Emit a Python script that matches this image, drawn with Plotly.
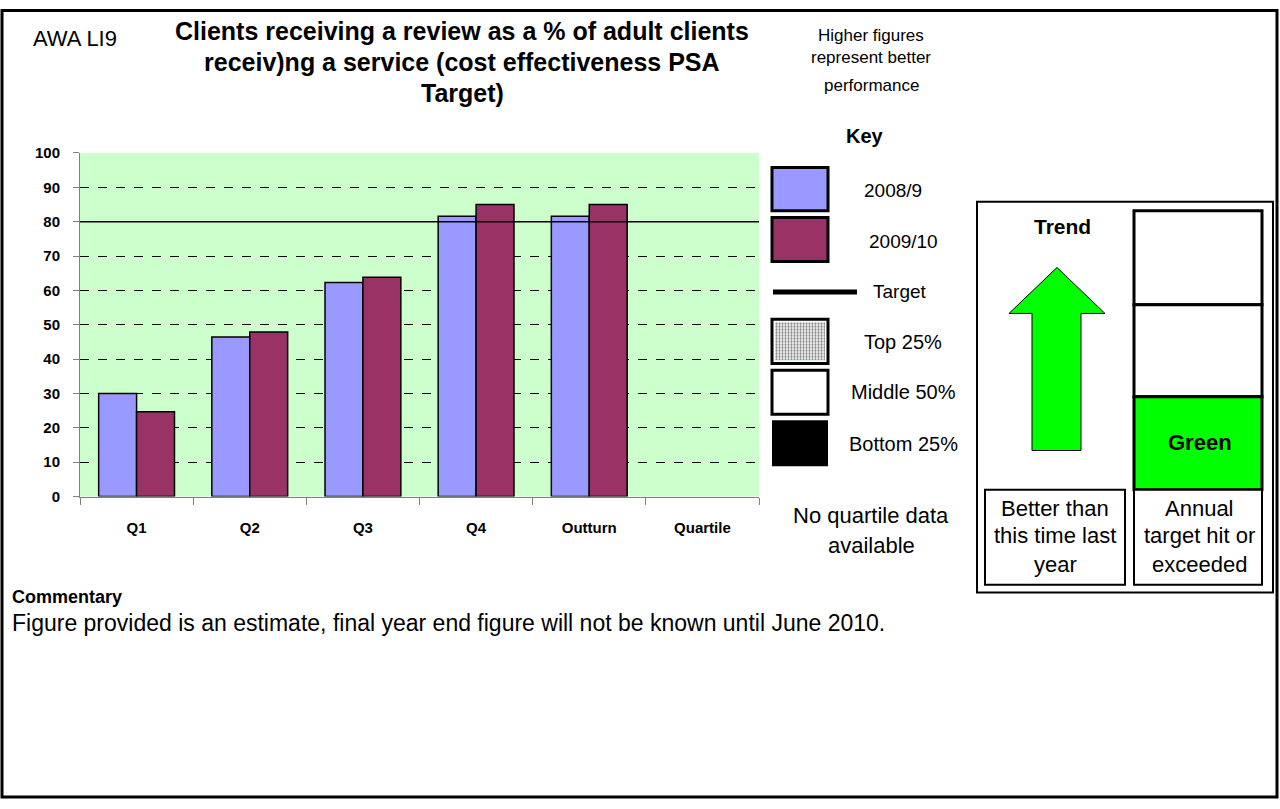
import plotly.graph_objects as go

# ---------------- data ----------------
categories = ["Q1", "Q2", "Q3", "Q4", "Outturn", "Quartile"]
series_2008_9 = [30.0, 46.4, 62.3, 81.6, 81.6, None]
series_2009_10 = [24.7, 47.9, 63.8, 85.0, 85.0, None]
target_value = 80
y_ticks = [0, 10, 20, 30, 40, 50, 60, 70, 80, 90, 100]

W, H = 1280, 809
FONT = "Liberation Sans, Arial, sans-serif"


def px(x):
    return x / W


def py(y):
    return 1 - y / H


fig = go.Figure()
fig.add_trace(go.Bar(x=categories, y=series_2008_9, name="2008/9",
                     marker=dict(color="#9999FF", line=dict(color="black", width=1.5))))
fig.add_trace(go.Bar(x=categories, y=series_2009_10, name="2009/10",
                     marker=dict(color="#993366", line=dict(color="black", width=1.5))))

# small subplot used only for the patterned "Top 25%" key swatch
fig.add_trace(go.Scatter(x=[0, 1, 1, 0, 0], y=[0, 0, 1, 1, 0], xaxis="x2", yaxis="y2",
                         mode="lines", fill="toself", line=dict(width=0, color="black"),
                         fillcolor="white",
                         fillpattern=dict(shape=".", fgcolor="#000000", bgcolor="#FFFFFF",
                                          size=3, solidity=0.45),
                         hoverinfo="skip", showlegend=False))

shapes = []
annotations = []


def rect(x0, y0, x1, y1, fill="rgba(0,0,0,0)", lw=2, lc="black"):
    shapes.append(dict(type="rect", xref="paper", yref="paper",
                       x0=px(x0), x1=px(x1), y0=py(y1), y1=py(y0),
                       fillcolor=fill, line=dict(color=lc, width=lw), layer="above"))


def text(x, y, s, size=15, bold=False, anchor="center", color="black"):
    if bold:
        s = "<b>" + s + "</b>"
    annotations.append(dict(xref="paper", yref="paper", x=px(x), y=py(y), text=s,
                            showarrow=False, xanchor=anchor, yanchor="middle",
                            font=dict(family=FONT, size=size, color=color)))


# target line
shapes.append(dict(type="line", xref="x domain", yref="y", x0=0, x1=1,
                   y0=target_value, y1=target_value, line=dict(color="black", width=1.5),
                   layer="above"))

# outer frame
rect(2, 1.5, 1277, 805, lw=3)

# header texts
text(75, 30, "AWA LI9", size=22)
text(462, 22, "Clients receiving a review as a % of adult clients", size=25, bold=True)
text(462, 54, "receiv)ng a service (cost effectiveness PSA", size=25, bold=True)
text(462, 86, "Target)", size=25, bold=True)
text(871, 27, "Higher figures", size=17)
text(871, 50, "represent better", size=17)
text(871, 78, "performance", size=17)

# key
text(865, 130, "Key", size=20, bold=True)
rect(772, 162, 828, 206, fill="#9999FF", lw=3)
text(893, 185, "2008/9", size=19)
rect(772, 213, 828, 258, fill="#993366", lw=3)
text(903, 237, "2009/10", size=19)
shapes.append(dict(type="line", xref="paper", yref="paper", x0=px(773), x1=px(857),
                   y0=py(289), y1=py(289), line=dict(color="black", width=5)))
text(900, 289, "Target", size=19)
rect(772, 317, 828, 362, lw=3)
text(903, 340, "Top 25%", size=20)
rect(772, 369, 828, 414, fill="white", lw=3)
text(903, 391, "Middle 50%", size=20)
rect(772, 420, 828, 467, fill="black", lw=0)
text(903, 444, "Bottom 25%", size=20)
text(871, 517, "No quartile data", size=22)
text(871, 548, "available", size=22)

# trend box
rect(977, 197, 1273, 596, lw=2)
text(1062, 222, "Trend", size=21, bold=True)
rect(1134, 206, 1262, 302, fill="white", lw=3)
rect(1134, 302, 1262, 396, fill="white", lw=3)
rect(1134, 396, 1262, 491, fill="#00FF00", lw=3)
rect(1134, 491, 1262, 588, fill="white", lw=2)
rect(985, 491, 1125, 588, fill="white", lw=2)
text(1200, 443, "Green", size=22, bold=True)
text(1055, 510, "Better than", size=22)
text(1055, 538, "this time last", size=22)
text(1055, 567, "year", size=22)
text(1199, 510, "Annual", size=22)
text(1199, 538, "target hit or", size=22)
text(1199, 567, "exceeded", size=22)

arrow_pts = [(1057, 264), (1105, 311), (1081, 311), (1081, 451), (1032, 451), (1032, 311), (1009, 311)]
path = "M " + " L ".join("{:.5f},{:.5f}".format(px(a), py(b)) for a, b in arrow_pts) + " Z"
shapes.append(dict(type="path", xref="paper", yref="paper", path=path,
                   fillcolor="#00FF00", line=dict(color="black", width=1), layer="above"))

# commentary
text(10, 601, "Commentary", size=18, bold=True, anchor="left")
text(10, 627, "Figure provided is an estimate, final year end figure will not be known until June 2010.",
     size=23, anchor="left")

fig.update_layout(
    width=W, height=H,
    margin=dict(l=0, r=0, t=0, b=0),
    paper_bgcolor="white",
    plot_bgcolor="#CCFFCC",
    barmode="group", bargap=0.33, bargroupgap=0,
    showlegend=False,
    font=dict(family=FONT, color="black"),
    shapes=shapes,
    annotations=annotations,
    xaxis=dict(domain=[px(80), px(759)], type="category", categoryarray=categories,
               categoryorder="array", range=[-0.5, 5.5],
               showline=True, linecolor="#808080", linewidth=1,
               ticks="outside", tickson="boundaries", ticklen=7, tickcolor="#808080",
               tickfont=dict(family=FONT, size=15, color="black", weight="bold"),
               ticklabelstandoff=17, showgrid=False, fixedrange=True),
    yaxis=dict(domain=[py(498), py(147)], range=[0, 100], tickvals=y_ticks,
               showline=True, linecolor="#808080", linewidth=1,
               ticks="outside", ticklen=6, tickcolor="#808080",
               tickfont=dict(family=FONT, size=15, color="black", weight="bold"),
               ticklabelstandoff=10,
               showgrid=True, gridcolor="black", gridwidth=1, griddash="dash",
               zeroline=False, fixedrange=True),
    xaxis2=dict(domain=[px(775), px(825)], range=[0, 1], visible=False, anchor="y2", fixedrange=True),
    yaxis2=dict(domain=[py(359), py(320)], range=[0, 1], visible=False, anchor="x2", fixedrange=True),
)

post = ("var gd=document.getElementById('{plot_id}');"
        "gd.style.position='fixed';gd.style.top='0px';gd.style.left='0px';"
        "document.body.style.margin='0';document.body.style.padding='0';"
        "document.documentElement.style.overflow='hidden';document.body.style.overflow='hidden';")

fig.write_html("out.html", config={"displayModeBar": False}, post_script=post)
